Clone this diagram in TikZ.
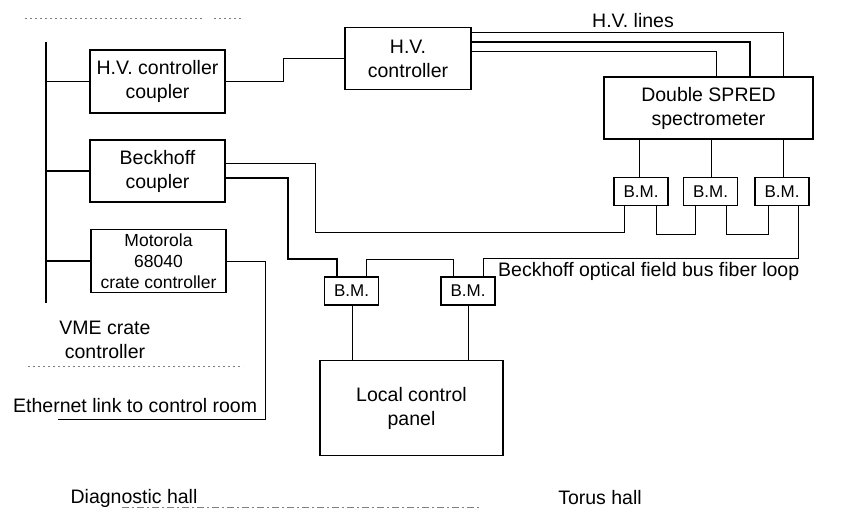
\documentclass[tikz,border=0pt]{standalone}
\usepackage{fontspec}
\setmainfont{Liberation Sans}
\begin{document}
\begin{tikzpicture}[x=1pt,y=-1pt,
  box/.style={draw, line width=1.1pt, inner sep=0pt, align=center, font=\fontsize{19.5}{24}\selectfont},
  smallbox/.style={box, font=\fontsize{17.5}{21}\selectfont},
  bmbox/.style={draw, line width=1.1pt, inner sep=0pt, minimum width=54pt, minimum height=28pt, font=\fontsize{17}{18}\selectfont},
  wire/.style={line width=1pt},
  thickwire/.style={line width=1.8pt},
  bus/.style={line width=2.4pt},
  lbl/.style={inner sep=0pt, align=center, font=\fontsize{19.5}{24}\selectfont},
  sep/.style={gray, line width=0.7pt, dash pattern=on 2pt off 3pt},
  sepdash/.style={gray, line width=0.9pt, dash pattern=on 7pt off 3pt on 2pt off 3pt}
]
\useasboundingbox (0,0) rectangle (850,511);

% separators
\draw[sep] (25,18) -- (205,18);
\draw[sep] (214,18) -- (243,18);
\draw[sep] (28,366) -- (243,366);
\draw[sepdash] (122,507) -- (480,507);

% bus
\coordinate (bustop) at (46,42);
\coordinate (busbot) at (46,303);
\draw[bus] (bustop) -- (busbot);

% boxes
\node[box, minimum width=135pt, minimum height=63pt] (hvcc) at (157.5,81.5) {H.V. controller\\coupler};
\node[box, minimum width=135pt, minimum height=62pt] (bc) at (157.5,171) {Beckhoff\\coupler};
\node[smallbox, minimum width=135pt, minimum height=63pt] (moto) at (158.5,261) {Motorola\\68040\\crate controller};
\node[box, minimum width=126pt, minimum height=62pt] (hvc) at (408,58.5) {H.V.\\controller};
\node[box, minimum width=209pt, minimum height=62pt] (spred) at (708.5,108) {Double SPRED\\spectrometer};
\node[bmbox] (bm1) at (641,191.5) {B.M.};
\node[bmbox] (bm2) at (710.5,191.5) {B.M.};
\node[bmbox] (bm3) at (782,191.5) {B.M.};
\node[bmbox] (bm4) at (351.5,291) {B.M.};
\node[bmbox] (bm5) at (468,291) {B.M.};
\node[box, minimum width=183pt, minimum height=95pt] (panel) at (411.5,408) {Local control\\panel};

% labels
\node[lbl] (hvl) at (633,21) {H.V. lines};
\node[lbl, anchor=base west] (loop) at (498,276) {Beckhoff optical field bus fiber loop};
\node[lbl] (vme) at (105,340) {VME crate\\controller};
\node[lbl, anchor=base west] (eth) at (13,412) {Ethernet link to control room};
\node[lbl] (diag) at (134,498) {Diagnostic hall};
\node[lbl] (torus) at (600,498) {Torus hall};

% bus taps
\draw[thickwire] (bustop |- hvcc.west) -- (hvcc.west);
\draw[thickwire] (bustop |- bc.west) -- (bc.west);
\draw[thickwire] (bustop |- moto.west) -- (moto.west);

% HV coupler to HV controller
\draw[wire] (hvcc.east) -| (283,58.5) -- (hvc.west);

% HV lines
\draw[wire] (hvc.east |- 0,33) -| (spred.north -| 783,0);
\draw[thickwire] (hvc.east |- 0,42) -| (spred.north -| 750,0);
\draw[wire] (hvc.east |- 0,52) -| (spred.north -| 716,0);

% spectrometer to B.M.s
\draw[wire] (spred.south -| 639,0) -- (bm1.north -| 639,0);
\draw[wire] (spred.south -| 711,0) -- (bm2.north -| 711,0);
\draw[wire] (spred.south -| 783,0) -- (bm3.north -| 783,0);

% fiber loop
\draw[wire] (bc.east |- 0,163) -| (315,232) -| (bm1.south -| 624,0);
\draw[wire] (bm1.south -| 656,0) |- (695,234) -- (bm2.south -| 695,0);
\draw[wire] (bm2.south -| 726,0) |- (768,234) -- (bm3.south -| 768,0);
\draw[wire] (bm3.south -| 798,0) |- (483,258) -- (bm5.north -| 483,0);
\draw[thickwire] (bc.east |- 0,178) -| (288,259) -| (bm4.north -| 337,0);
\draw[wire] (bm4.north -| 366,0) |- (453,259) -- (bm5.north -| 453,0);

% B.M. to local panel
\draw[wire] (bm4.south -| 352,0) -- (panel.north -| 352,0);
\draw[wire] (bm5.south -| 468,0) -- (panel.north -| 468,0);

% ethernet
\coordinate (ethend) at (58,419);
\draw[wire] (moto.east) -| (265,419) -- (ethend);
\end{tikzpicture}
\end{document}
